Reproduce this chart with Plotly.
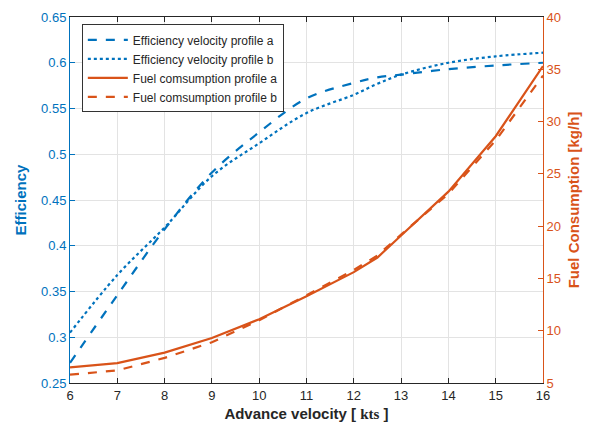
import plotly.graph_objects as go

# Data
speed = [6, 7, 8, 9, 10, 11, 12, 12.5, 13, 14, 15, 16]
eff_a = [0.272, 0.346, 0.418, 0.480, 0.524, 0.561, 0.578, 0.584, 0.587, 0.593, 0.597, 0.600]
eff_b = [0.305, 0.368, 0.420, 0.476, 0.512, 0.545, 0.565, 0.577, 0.587, 0.600, 0.607, 0.611]

fuel_x = [6, 7, 8, 9, 10, 11, 12, 12.5, 13, 14, 15, 16]
fuel_a = [6.5, 6.9, 7.9, 9.3, 11.1, 13.3, 15.6, 17.0, 19.1, 23.3, 28.6, 35.3]
fuel_b = [5.8, 6.2, 7.4, 8.9, 11.0, 13.4, 15.8, 17.2, 19.2, 23.1, 28.2, 34.4]

names = ["Efficiency velocity profile a", "Efficiency velocity profile b",
         "Fuel comsumption profile a", "Fuel comsumption profile b"]

BLUE = "#0072BD"
ORANGE = "#D95319"
FONT = "Liberation Sans, Arial, sans-serif"

fig = go.Figure()
fig.add_trace(go.Scatter(x=speed, y=eff_a, name=names[0], mode="lines",
                         line=dict(color=BLUE, width=2.2, dash="dash", shape="spline")))
fig.add_trace(go.Scatter(x=speed, y=eff_b, name=names[1], mode="lines",
                         line=dict(color=BLUE, width=2.2, dash="dot", shape="spline")))
fig.add_trace(go.Scatter(x=fuel_x, y=fuel_a, name=names[2], mode="lines", yaxis="y2",
                         line=dict(color=ORANGE, width=2.2)))
fig.add_trace(go.Scatter(x=fuel_x, y=fuel_b, name=names[3], mode="lines", yaxis="y2",
                         line=dict(color=ORANGE, width=2.2, dash="dash")))

fig.update_layout(
    width=602, height=438,
    margin=dict(l=70, r=59, t=10, b=55),
    paper_bgcolor="white", plot_bgcolor="white",
    font=dict(family=FONT, size=12, color="#262626"),
    showlegend=True,
    legend=dict(x=0.025, y=0.98, xanchor="left", yanchor="top",
                bgcolor="white", bordercolor="#333333", borderwidth=1,
                font=dict(size=12, color="#262626"),
                tracegroupgap=0, itemwidth=40),
    xaxis=dict(range=[6, 16], dtick=1, tick0=6,
               showgrid=True, gridcolor="#e3e3e3", gridwidth=1,
               showline=True, linecolor="#262626", linewidth=1, mirror="ticks",
               ticks="inside", ticklen=5, tickcolor="#262626",
               tickfont=dict(size=13, color="#262626"),
               zeroline=False,
               title=dict(text="<b>Advance velocity [ </b><span style=\"font-family:Liberation Serif\"><b>kts</b></span><b> ]</b>",
                          font=dict(size=15, color="#262626"), standoff=6)),
    yaxis=dict(range=[0.25, 0.65], dtick=0.05, tick0=0.25,
               showgrid=True, gridcolor="#e3e3e3", gridwidth=1,
               showline=True, linecolor=BLUE, linewidth=1,
               ticks="inside", ticklen=5, tickcolor=BLUE,
               tickfont=dict(size=13, color=BLUE),
               zeroline=False,
               title=dict(text="<b>Efficiency</b>", font=dict(size=15, color=BLUE), standoff=10)),
    yaxis2=dict(range=[5, 40], dtick=5, tick0=5, overlaying="y", side="right",
                showgrid=False,
                showline=True, linecolor=ORANGE, linewidth=1,
                ticks="inside", ticklen=5, tickcolor=ORANGE,
                tickfont=dict(size=13, color=ORANGE),
                zeroline=False,
                title=dict(text="<b>Fuel Consumption [kg/h]</b>", font=dict(size=15, color=ORANGE), standoff=8)),
)

fig.write_html("out.html")
